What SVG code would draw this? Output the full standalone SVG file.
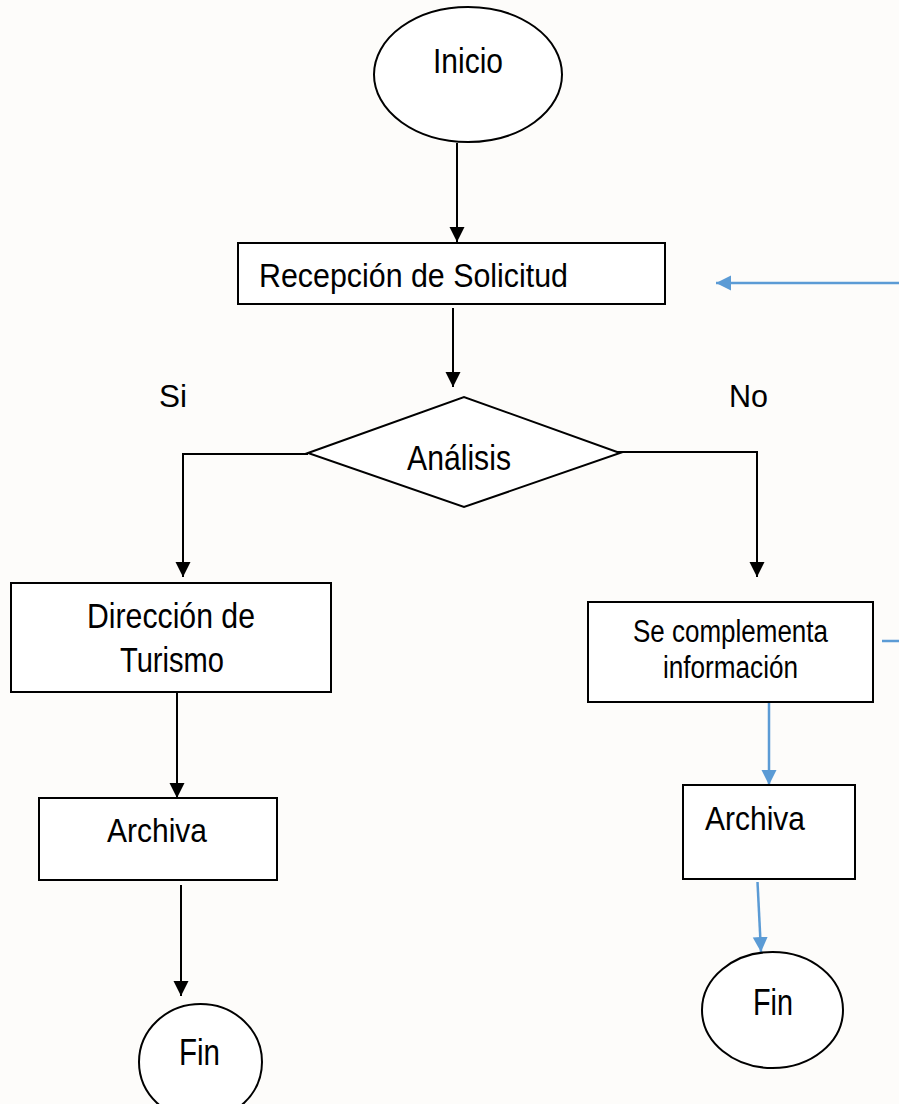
<svg xmlns="http://www.w3.org/2000/svg" width="899" height="1104" viewBox="0 0 899 1104">
<style>
.shape{fill:#ffffff;stroke:#000000;stroke-width:2}
.lbl{font-family:"Liberation Sans",Arial,sans-serif;fill:#000000}
.k{fill:none;stroke:#000000;stroke-width:2}
.b{fill:none;stroke:#5B9BD5;stroke-width:2.5}
</style>
<defs>
<marker id="ak" markerUnits="userSpaceOnUse" markerWidth="16" markerHeight="16" refX="15" refY="7.5" orient="auto"><path d="M0,0 L15,7.5 L0,15 z" fill="#000000"/></marker>
<marker id="ab" markerUnits="userSpaceOnUse" markerWidth="16" markerHeight="16" refX="15" refY="7.5" orient="auto"><path d="M0,0 L15,7.5 L0,15 z" fill="#5B9BD5"/></marker>
</defs>
<rect x="0" y="0" width="899" height="1104" fill="#FDFCFA"/>
<g id="connectors">
<line class="k" x1="457" y1="143" x2="457" y2="242" marker-end="url(#ak)"/>
<line class="k" x1="453" y1="308" x2="453" y2="387" marker-end="url(#ak)"/>
<polyline class="k" points="308,454 183,454 183,577" marker-end="url(#ak)"/>
<polyline class="k" points="600,452 757,452 757,577" marker-end="url(#ak)"/>
<line class="k" x1="177" y1="687" x2="177" y2="798" marker-end="url(#ak)"/>
<line class="k" x1="181" y1="885" x2="181" y2="996" marker-end="url(#ak)"/>
<line class="b" x1="899" y1="283" x2="716" y2="283" marker-end="url(#ab)"/>
<line class="b" x1="882" y1="641" x2="899" y2="641"/>
<line class="b" x1="769" y1="700" x2="769" y2="785" marker-end="url(#ab)"/>
<line class="b" x1="757.5" y1="882" x2="761" y2="952" marker-end="url(#ab)"/>
</g>
<g id="inicio">
<ellipse class="shape" cx="468" cy="74.5" rx="94" ry="67.5"/>
<text class="lbl" x="433" y="73" font-size="35" textLength="70" lengthAdjust="spacingAndGlyphs">Inicio</text>
</g>
<g id="recepcion">
<rect class="shape" x="238" y="243" width="427" height="61"/>
<text class="lbl" x="259" y="287" font-size="33" textLength="309" lengthAdjust="spacingAndGlyphs">Recepción de Solicitud</text>
</g>
<g id="analisis">
<polygon class="shape" points="308,453 464,397 620,453 464,507"/>
<text class="lbl" x="407" y="470" font-size="35" textLength="104" lengthAdjust="spacingAndGlyphs">Análisis</text>
</g>
<g id="label-si">
<text class="lbl" x="159" y="407" font-size="31" textLength="28" lengthAdjust="spacingAndGlyphs">Si</text>
</g>
<g id="label-no">
<text class="lbl" x="729" y="407" font-size="31" textLength="39" lengthAdjust="spacingAndGlyphs">No</text>
</g>
<g id="direccion">
<rect class="shape" x="11" y="583" width="320" height="109"/>
<text class="lbl" x="87" y="628" font-size="35" textLength="168" lengthAdjust="spacingAndGlyphs">Dirección de</text>
<text class="lbl" x="120" y="672" font-size="35" textLength="104" lengthAdjust="spacingAndGlyphs">Turismo</text>
</g>
<g id="archiva-si">
<rect class="shape" x="39" y="798" width="238" height="82"/>
<text class="lbl" x="107" y="842" font-size="34" textLength="100" lengthAdjust="spacingAndGlyphs">Archiva</text>
</g>
<g id="fin-si">
<ellipse class="shape" cx="200.5" cy="1062" rx="61.5" ry="58"/>
<text class="lbl" x="179" y="1065" font-size="36" textLength="41" lengthAdjust="spacingAndGlyphs">Fin</text>
</g>
<g id="complementa">
<rect class="shape" x="588" y="602" width="285" height="100"/>
<text class="lbl" x="633" y="642" font-size="31" textLength="195" lengthAdjust="spacingAndGlyphs">Se complementa</text>
<text class="lbl" x="663" y="678" font-size="31" textLength="135" lengthAdjust="spacingAndGlyphs">información</text>
</g>
<g id="archiva-no">
<rect class="shape" x="683" y="785" width="172" height="94"/>
<text class="lbl" x="705" y="830" font-size="34" textLength="100" lengthAdjust="spacingAndGlyphs">Archiva</text>
</g>
<g id="fin-no">
<ellipse class="shape" cx="772.5" cy="1010" rx="70.5" ry="58"/>
<text class="lbl" x="753" y="1015" font-size="36" textLength="40" lengthAdjust="spacingAndGlyphs">Fin</text>
</g>
</svg>
